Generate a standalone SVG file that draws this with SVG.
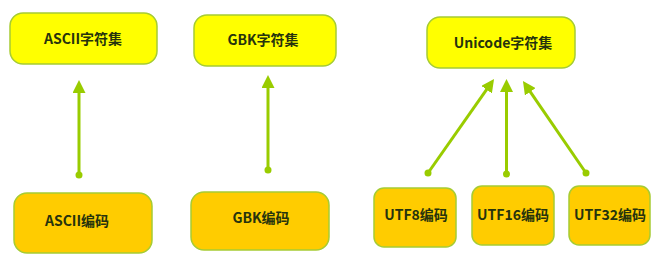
<svg xmlns="http://www.w3.org/2000/svg" width="672" height="256" viewBox="0 0 672 256">
<style>
.set rect{fill:#FFFF00;stroke:#A6CC33;stroke-width:1.5}
.enc rect{fill:#FFCC00;stroke:#A6CC33;stroke-width:1.5}
text{font-family:"Noto Sans CJK SC","Noto Sans",sans-serif;font-weight:bold;font-size:14px;fill:#26330D;text-anchor:middle}
.conn line{stroke:#99CC00;stroke-width:3;marker-end:url(#ah);marker-start:url(#dot)}
</style>
<defs>
<marker id="ah" markerUnits="userSpaceOnUse" markerWidth="14" markerHeight="13" refX="3" refY="6.5" orient="auto" viewBox="0 0 14 13">
<path d="M0,0 L13,6.5 L0,13 z" fill="#99CC00"/>
</marker>
<marker id="dot" markerUnits="userSpaceOnUse" markerWidth="8" markerHeight="8" refX="4" refY="4" viewBox="0 0 8 8">
<circle cx="4" cy="4" r="3.5" fill="#99CC00"/>
</marker>
</defs>
<rect width="672" height="256" fill="#FFFFFF"/>
<g class="conn">
<line x1="79" y1="175" x2="79" y2="90"/>
<line x1="268" y1="170" x2="268" y2="85"/>
<line x1="428" y1="173" x2="488.3" y2="87.2"/>
<line x1="506.5" y1="174" x2="506.5" y2="89"/>
<line x1="586" y1="173" x2="528.6" y2="89.3"/>
</g>
<g id="ascii-set" class="set"><rect x="10" y="13" width="147" height="51" rx="13"/><text x="83" y="44">ASCII字符集</text></g>
<g id="gbk-set" class="set"><rect x="194" y="15" width="142" height="51" rx="13"/><text x="263" y="45">GBK字符集</text></g>
<g id="unicode-set" class="set"><rect x="427" y="17" width="148" height="51" rx="13"/><text x="503" y="48">Unicode字符集</text></g>
<g id="ascii-enc" class="enc"><rect x="14" y="193" width="138" height="60" rx="13"/><text x="77" y="226">ASCII编码</text></g>
<g id="gbk-enc" class="enc"><rect x="191" y="192" width="138" height="58" rx="13"/><text x="261" y="223">GBK编码</text></g>
<g id="utf8-enc" class="enc"><rect x="374" y="188" width="82" height="59" rx="10"/><text x="416" y="220">UTF8编码</text></g>
<g id="utf16-enc" class="enc"><rect x="472" y="186" width="82" height="59" rx="10"/><text x="513" y="220">UTF16编码</text></g>
<g id="utf32-enc" class="enc"><rect x="569" y="186" width="81" height="59" rx="10"/><text x="610" y="220">UTF32编码</text></g>
</svg>
